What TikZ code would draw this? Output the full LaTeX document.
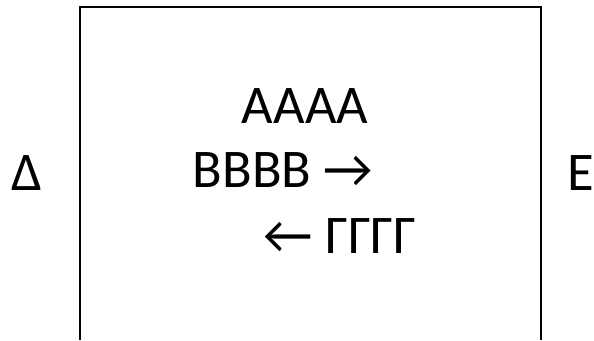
\documentclass[tikz,border=0pt]{standalone}
\usepackage{fontspec}
\setmainfont{Carlito}

\begin{document}
\begin{tikzpicture}[every node/.style={font=\fontsize{31}{37}\selectfont,anchor=base,inner sep=0pt}]
\useasboundingbox (0,0) rectangle (11.88,6.8);

\draw[line width=1.7pt] (1.6,0) -- (1.6,6.66) -- (10.82,6.66) -- (10.82,0);

\node (alpha) at (6.1,4.34) {ΑΑΑΑ};
\node (beta) at (5.66,3.06) {ΒΒΒΒ →};
\node (gamma) at (6.8,1.74) {← ΓΓΓΓ};
\node (delta) at (0.54,3.0) {Δ};
\node (eps) at (11.62,3.0) {Ε};
\end{tikzpicture}
\end{document}
